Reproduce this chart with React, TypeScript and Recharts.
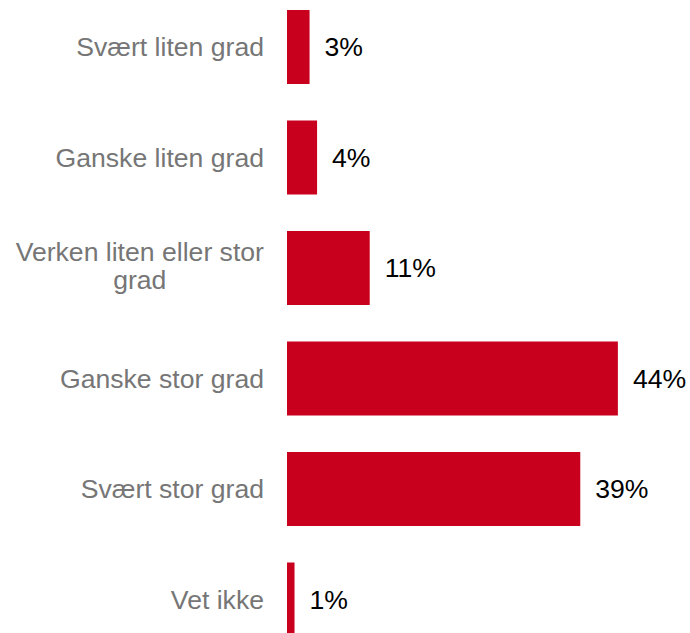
import React from 'react'
import { BarChart, Bar, XAxis, YAxis, LabelList } from 'recharts';

const categories: string[] = [
    'Svært liten grad',
    'Ganske liten grad',
    'Verken liten eller stor grad',
    'Ganske stor grad',
    'Svært stor grad',
    'Vet ikke',
];
const values: number[] = [3, 4, 11, 44, 39, 1];

const data = categories.map((name, i) => ({ name, value: values[i] }));

const FONT = "'Liberation Sans', Arial, sans-serif";
const FONT_SIZE = 26.6;

// wrap long category names into two lines, keeping lines centred on each other
const wrap = (text: string, max: number): string[] => {
    const words = text.split(' ');
    const lines: string[] = [];
    let cur = '';
    words.forEach((w) => {
        const next = cur ? cur + ' ' + w : w;
        if (next.length > max && cur) {
            lines.push(cur);
            cur = w;
        } else {
            cur = next;
        }
    });
    if (cur) lines.push(cur);
    return lines;
};

const CategoryTick = (props: any) => {
    const { x, y, payload } = props;
    const lines = wrap(payload.value, 23);
    if (lines.length === 1) {
        return (
            <text x={x} y={y} dy={9} textAnchor="end" fill="#767676" fontSize={FONT_SIZE} fontFamily={FONT}>
                {lines[0]}
            </text>
        );
    }
    const longest = Math.max(...lines.map((l) => l.length));
    const cx = x - (longest * 10.8) / 2;
    return (
        <text x={cx} y={y} textAnchor="middle" fill="#767676" fontSize={FONT_SIZE} fontFamily={FONT}>
            {lines.map((l, i) => (
                <tspan key={i} x={cx} dy={i === 0 ? -7 : 28}>{l}</tspan>
            ))}
        </text>
    );
};

const App: React.FC = () => {
    return (
        <div style={{ position: 'absolute', left: 0, top: 0, width: 690, height: 633, overflow: 'hidden' }}>
            <div style={{ position: 'relative', top: -8 }}>
                <BarChart
                    width={690}
                    height={663}
                    data={data}
                    layout="vertical"
                    margin={{ top: 0, right: 27, left: 0, bottom: 0 }}
                >
                    <XAxis type="number" domain={[0, 50]} hide />
                    <YAxis
                        type="category"
                        dataKey="name"
                        width={287}
                        axisLine={false}
                        tickLine={false}
                        tickSize={0}
                        tickMargin={23}
                        interval={0}
                        tick={<CategoryTick />}
                    />
                    <Bar dataKey="value" fill="#C8001E" barSize={74} isAnimationActive={false}>
                        <LabelList
                            dataKey="value"
                            position="right"
                            offset={15}
                            formatter={(v: any) => `${v}%`}
                            fill="#000000"
                            fontSize={FONT_SIZE}
                            fontFamily={FONT}
                        />
                    </Bar>
                </BarChart>
            </div>
        </div>
    )
}

export default App
